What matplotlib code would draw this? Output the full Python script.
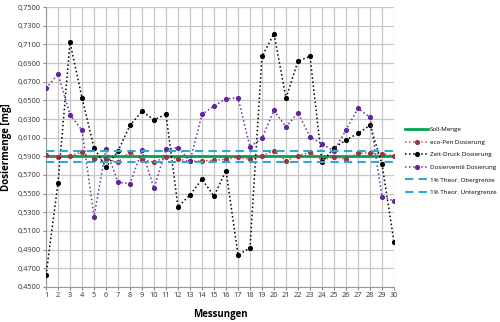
import matplotlib.pyplot as plt
import numpy as np
from matplotlib.ticker import FuncFormatter

plt.rcParams['font.family'] = ['Open Sans', 'DejaVu Sans']

messungen = list(range(1, 31))
soll = 0.59
obergrenze = soll * 1.01
untergrenze = soll * 0.99

eco_pen = [0.5915, 0.5897, 0.5906, 0.5945, 0.5872, 0.5868, 0.5840, 0.5944, 0.5865, 0.5838,
           0.5894, 0.5870, 0.5847, 0.5851, 0.5857, 0.5868, 0.5890, 0.5868, 0.5907, 0.5957,
           0.5854, 0.5907, 0.5943, 0.5860, 0.5895, 0.5868, 0.5932, 0.5936, 0.5925, 0.5907]

zeit_druck = [0.4625, 0.5611, 0.7121, 0.6528, 0.5993, 0.5782, 0.5956, 0.6232, 0.6382, 0.6293,
              0.6350, 0.5357, 0.5486, 0.5654, 0.5475, 0.5746, 0.4843, 0.4918, 0.6971, 0.7214,
              0.6525, 0.6921, 0.6971, 0.5839, 0.5990, 0.6075, 0.6146, 0.6232, 0.5818, 0.4982]

dosierventil = [0.6629, 0.6782, 0.6346, 0.6179, 0.5253, 0.5979, 0.5622, 0.5607, 0.5964, 0.5557,
                0.5975, 0.5993, 0.5848, 0.6350, 0.6439, 0.6518, 0.6528, 0.6000, 0.6096, 0.6393,
                0.6214, 0.6368, 0.6107, 0.6032, 0.5957, 0.6182, 0.6414, 0.6318, 0.5468, 0.5421]

fig = plt.figure(figsize=(5, 3.22), dpi=100)
ax = fig.add_axes([0.092, 0.109, 0.696, 0.869])

x = np.array(messungen)
ax.plot(x, [soll] * len(x), color='#00a651', lw=2, label='Soll-Menge', zorder=3)
ax.plot(x, eco_pen, color='#c0504d', ls=':', lw=1.1, marker='o', ms=2.7,
        mfc='#8e3b46', mec='#8e3b46', label='eco-Pen Dosierung', zorder=4)
ax.plot(x, zeit_druck, color='black', ls=':', lw=1.1, marker='o', ms=2.7,
        label='Zeit-Druck Dosierung', zorder=4)
ax.plot(x, dosierventil, color='#7030a0', ls=':', lw=1.1, marker='o', ms=2.7,
        mfc='#60259a', mec='#60259a', label='Dosierventil Dosierung', zorder=4)
ax.plot(x, [obergrenze] * len(x), color='#2fa8d8', ls=(0, (4, 2.5)), lw=1.5,
        label='1% Theor. Obergrenze', zorder=5)
ax.plot(x, [untergrenze] * len(x), color='#2fa8d8', ls=(0, (4, 2.5)), lw=1.5,
        label='1% Theor. Untergrenze', zorder=5)

ax.set_xlim(1, 30)
ax.set_ylim(0.45, 0.75)
ax.set_xticks(messungen)
ax.set_yticks(np.arange(0.45, 0.7501, 0.02))
ax.yaxis.set_major_formatter(FuncFormatter(lambda v, p: f'{v:.4f}'.replace('.', ',')))
ax.tick_params(labelsize=5.3, length=2, color='#888888', colors='#333333', pad=2)
ax.grid(True, color='#c8c8c8', lw=0.9)
ax.set_axisbelow(True)
for s in ['top', 'right']:
    ax.spines[s].set_visible(False)
ax.spines['left'].set_color('#999999')
ax.spines['bottom'].set_color('#999999')

ax.set_xlabel('Messungen', fontsize=7, fontweight='bold', labelpad=7)
ax.set_ylabel('Dosiermenge [mg]', fontsize=7, fontweight='bold', labelpad=4)

ax.legend(loc='center left', bbox_to_anchor=(1.02, 0.45), frameon=False,
          fontsize=4.5, handlelength=3.6, handletextpad=0.3, labelspacing=1.15,
          borderaxespad=0.3)

fig.savefig('out.png', dpi=100)
